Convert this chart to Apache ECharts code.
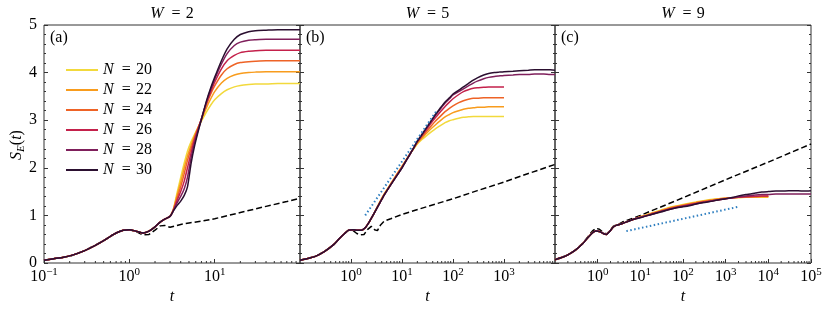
<!DOCTYPE html>
<html><head><meta charset="utf-8">
<script src="https://cdn.jsdelivr.net/npm/echarts@6/dist/echarts.min.js"></script>
<style>html,body{margin:0;padding:0;background:#fff}#c{width:830px;height:314px}</style>
</head><body><div id="c"></div>
<script>
// ---------- DATA ----------
const NS = ['20','22','24','26','28','30'];
const panelTitles = ['2','5','9'];
const panelTags = ['(a)','(b)','(c)'];
const xMax = [100, 10000, 100000];

// Panel (a), W = 2
const tA = [0.1,0.13,0.17,0.22,0.3,0.4,0.5,0.6,0.7,0.85,1.0,1.2,1.45,1.7,2.0,2.3,2.6,3.0,3.3,3.6,4.0,4.4,4.8,5.3,5.8,6.4,7,8,9,10,12,14,17,20,25,30,40,55,75,100];
const a20 = [0.06,0.09,0.12,0.17,0.26,0.37,0.47,0.56,0.63,0.69,0.70,0.67,0.63,0.67,0.76,0.86,0.92,0.98,1.15,1.45,1.8,2.1,2.35,2.55,2.7,2.85,2.98,3.17,3.32,3.43,3.56,3.64,3.7,3.73,3.75,3.76,3.76,3.77,3.77,3.77];
const a22 = [0.06,0.09,0.12,0.17,0.26,0.37,0.47,0.56,0.63,0.69,0.70,0.67,0.63,0.67,0.76,0.86,0.92,0.98,1.14,1.4,1.7,2.0,2.25,2.48,2.67,2.85,3.01,3.26,3.45,3.6,3.78,3.88,3.95,3.98,4.0,4.01,4.02,4.02,4.02,4.02];
const a24 = [0.06,0.09,0.12,0.17,0.26,0.37,0.47,0.56,0.63,0.69,0.70,0.67,0.63,0.67,0.76,0.86,0.92,0.98,1.13,1.35,1.6,1.88,2.15,2.41,2.63,2.84,3.02,3.32,3.55,3.72,3.95,4.08,4.17,4.21,4.23,4.24,4.25,4.25,4.25,4.25];
const a26 = [0.06,0.09,0.12,0.17,0.26,0.37,0.47,0.56,0.63,0.69,0.70,0.67,0.63,0.67,0.76,0.86,0.92,0.98,1.12,1.3,1.5,1.72,2.0,2.32,2.59,2.82,3.03,3.36,3.6,3.8,4.08,4.25,4.36,4.42,4.45,4.46,4.47,4.47,4.47,4.47];
const a28 = [0.06,0.09,0.12,0.17,0.26,0.37,0.47,0.56,0.63,0.69,0.70,0.67,0.63,0.67,0.76,0.86,0.92,0.98,1.11,1.25,1.4,1.56,1.8,2.22,2.52,2.79,3.03,3.38,3.65,3.86,4.18,4.4,4.57,4.64,4.68,4.69,4.7,4.7,4.7,4.7];
const a30 = [0.06,0.09,0.12,0.17,0.26,0.37,0.47,0.56,0.63,0.69,0.70,0.67,0.63,0.67,0.76,0.86,0.92,0.98,1.1,1.2,1.3,1.42,1.6,2.1,2.45,2.76,3.02,3.4,3.68,3.9,4.25,4.5,4.7,4.8,4.86,4.88,4.89,4.9,4.9,4.9];
const tDashA = [0.1,0.2,0.3,0.5,0.7,0.85,1.0,1.2,1.45,1.7,2.0,2.3,2.6,3.0,3.5,4,5,7,10,20,40,70,100];
const dashA  = [0.06,0.14,0.26,0.47,0.63,0.69,0.70,0.66,0.59,0.6,0.69,0.78,0.79,0.75,0.78,0.81,0.84,0.88,0.93,1.06,1.19,1.29,1.36];

// Panel (b), W = 5
const tB = [0.1,0.15,0.2,0.3,0.45,0.6,0.75,0.9,1.1,1.35,1.6,1.9,2.3,2.8,3.5,4.5,6,8,10,13,16,20,25,30,38,45,55,70,85,100,130,160,200,250,300,400,500,650,800,1000,1500,2000,3000,4000,6000,8000,10000];
const b20 = [0.06,0.1,0.14,0.24,0.38,0.52,0.62,0.69,0.70,0.69,0.69,0.74,0.87,1.03,1.24,1.45,1.66,1.87,2.03,2.22,2.36,2.5,2.6,2.67,2.76,2.82,2.88,2.95,2.99,3.01,3.04,3.06,3.07,3.08,3.08,3.08,3.08,3.08,3.08,3.08];
const b22 = [0.06,0.1,0.14,0.24,0.38,0.52,0.62,0.69,0.70,0.69,0.69,0.74,0.87,1.03,1.24,1.45,1.66,1.87,2.03,2.22,2.37,2.52,2.63,2.72,2.83,2.9,2.98,3.07,3.12,3.16,3.2,3.23,3.25,3.26,3.27,3.27,3.28,3.28,3.28,3.28];
const b24 = [0.06,0.1,0.14,0.24,0.38,0.52,0.62,0.69,0.70,0.69,0.69,0.74,0.87,1.03,1.23,1.44,1.65,1.86,2.02,2.22,2.37,2.53,2.66,2.76,2.89,2.98,3.07,3.18,3.25,3.3,3.37,3.41,3.44,3.46,3.46,3.47,3.47,3.47,3.47,3.47];
const b26 = [0.06,0.1,0.14,0.24,0.38,0.52,0.62,0.69,0.70,0.69,0.69,0.74,0.87,1.03,1.22,1.43,1.64,1.85,2.01,2.21,2.37,2.55,2.69,2.8,2.95,3.05,3.16,3.29,3.38,3.45,3.54,3.6,3.64,3.67,3.68,3.69,3.7,3.7,3.7,3.7];
const b28 = [0.06,0.1,0.14,0.24,0.38,0.52,0.62,0.69,0.70,0.69,0.69,0.74,0.87,1.03,1.22,1.43,1.64,1.84,2.0,2.21,2.37,2.56,2.71,2.83,2.99,3.1,3.22,3.36,3.45,3.53,3.6,3.66,3.72,3.78,3.82,3.87,3.9,3.92,3.93,3.94,3.95,3.96,3.96,3.97,3.97,3.96,3.96];
const b30 = [0.06,0.1,0.14,0.24,0.38,0.52,0.62,0.69,0.70,0.69,0.69,0.74,0.87,1.03,1.22,1.43,1.64,1.84,2.0,2.21,2.37,2.56,2.71,2.84,3.0,3.12,3.24,3.38,3.47,3.55,3.63,3.7,3.77,3.84,3.89,3.95,3.98,4.0,4.01,4.02,4.03,4.04,4.05,4.06,4.06,4.06,4.05];
const tDashB = [0.1,0.2,0.3,0.45,0.6,0.75,0.9,1.1,1.3,1.5,1.8,2.1,2.5,2.9,3.3,3.8,4.5,6,10,30,100,300,1000,3000,10000];
const dashB  = [0.06,0.14,0.24,0.38,0.52,0.62,0.69,0.68,0.62,0.59,0.6,0.7,0.77,0.7,0.68,0.8,0.88,0.93,1.02,1.18,1.35,1.52,1.7,1.88,2.07];
const tFitB = [1.9, 47];
const fitB  = [1.0, 3.19];

// Panel (c), W = 9
const tC = [0.1,0.15,0.2,0.3,0.45,0.6,0.75,0.9,1.1,1.35,1.6,1.9,2.3,2.7,3.2,3.8,5,7,10,15,20,30,50,70,100,150,200,300,500,700,1000,1500,2000,3000,5000,7000,10000,15000,20000,30000,50000,70000,100000];
const c20 = [0.07,0.12,0.17,0.27,0.41,0.54,0.63,0.67,0.66,0.62,0.6,0.66,0.75,0.79,0.81,0.83,0.87,0.92,0.97,1.02,1.06,1.11,1.17,1.2,1.23,1.26,1.28,1.31,1.34,1.35,1.36,1.37,1.37,1.38,1.38,1.38,1.38];
const c22 = [0.07,0.12,0.17,0.27,0.41,0.54,0.63,0.67,0.66,0.62,0.6,0.66,0.75,0.79,0.81,0.83,0.87,0.92,0.97,1.02,1.05,1.1,1.16,1.19,1.22,1.25,1.27,1.3,1.33,1.35,1.36,1.37,1.38,1.38,1.39,1.39,1.39];
const c24 = [0.07,0.12,0.17,0.27,0.41,0.54,0.63,0.67,0.66,0.62,0.6,0.66,0.75,0.79,0.81,0.83,0.87,0.92,0.96,1.01,1.05,1.09,1.15,1.18,1.21,1.24,1.26,1.29,1.32,1.34,1.36,1.37,1.38,1.39,1.39,1.4,1.4];
const c26 = [0.07,0.12,0.17,0.27,0.41,0.54,0.63,0.67,0.66,0.62,0.6,0.66,0.75,0.79,0.81,0.83,0.87,0.92,0.96,1.0,1.04,1.08,1.14,1.17,1.2,1.23,1.25,1.28,1.31,1.33,1.35,1.37,1.38,1.39,1.4,1.41,1.41];
const c28 = [0.07,0.12,0.17,0.27,0.41,0.54,0.63,0.67,0.66,0.62,0.6,0.66,0.75,0.79,0.81,0.83,0.87,0.92,0.96,1.0,1.03,1.08,1.13,1.16,1.19,1.22,1.24,1.27,1.31,1.33,1.35,1.37,1.39,1.41,1.43,1.44,1.44,1.45,1.45,1.45,1.45,1.45,1.45];
const c30 = [0.07,0.12,0.17,0.27,0.41,0.54,0.63,0.67,0.66,0.62,0.6,0.66,0.75,0.79,0.81,0.83,0.87,0.92,0.95,1.0,1.03,1.07,1.13,1.16,1.18,1.21,1.24,1.27,1.3,1.33,1.35,1.38,1.41,1.44,1.47,1.49,1.5,1.51,1.51,1.52,1.52,1.51,1.52];
const tDashC = [0.1,0.2,0.3,0.45,0.6,0.75,0.9,1.1,1.35,1.6,1.9,2.3,2.7,3.2,3.8,5,10,100,1000,10000,100000];
const dashC  = [0.07,0.17,0.27,0.42,0.56,0.67,0.73,0.71,0.64,0.61,0.67,0.77,0.8,0.82,0.86,0.9,1.0,1.37,1.75,2.12,2.5];
const tFitC = [4.7, 1950];
const fitC  = [0.67, 1.18];

// ---------- STYLE ----------
const FONT = '"Liberation Serif","DejaVu Serif",serif';
const FS = 16;
const COLORS = ['#f2d93c','#f89c1d','#ee6326','#c4214b','#7f1f5b','#2b0f30'];
const AX = '#333';
const EQ = '\u2002=\u2004';
const richBase = {
  n: {fontFamily: FONT, fontSize: FS, color: '#000'},
  i: {fontFamily: FONT, fontSize: FS, fontStyle: 'italic', color: '#000'},
  b: {fontFamily: FONT, fontSize: FS, color: '#000'},
  s: {fontFamily: FONT, fontSize: 11, color: '#000', padding: [0,0,8,0]},
  sub: {fontFamily: FONT, fontSize: 11, fontStyle: 'italic', color: '#000', padding: [8,0,0,0]}
};
const grids = [
  {left: 44, top: 25, width: 256, height: 238},
  {left: 300, top: 25, width: 255, height: 238},
  {left: 555, top: 25, width: 256, height: 238}
];

const pairs = (t, s) => s.map((v, i) => [t[i], v]);
const panelData = [
  {t: tA, s: [a20,a22,a24,a26,a28,a30], dt: tDashA, d: dashA, ft: null, f: null},
  {t: tB, s: [b20,b22,b24,b26,b28,b30], dt: tDashB, d: dashB, ft: tFitB, f: fitB},
  {t: tC, s: [c20,c22,c24,c26,c28,c30], dt: tDashC, d: dashC, ft: tFitC, f: fitC}
];

const xAxis = [], yAxis = [], series = [];
function expLabel(v) {
  const e = Math.round(Math.log10(v));
  return '{b|10}{s|' + (e < 0 ? '\u2212' + (-e) : e) + '}';
}
for (let g = 0; g < 3; g++) {
  xAxis.push({
    type: 'log', logBase: 10, gridIndex: g, min: 0.1, max: xMax[g], splitNumber: 10,
    axisLine: {show: false},
    axisTick: {show: true, inside: true, length: 4, lineStyle: {color: AX, width: 1}},
    axisLabel: {show: true, margin: 4, formatter: expLabel, rich: richBase,
      showMinLabel: g === 0, showMaxLabel: g === 2},
    splitLine: {show: false}
  });
  for (const pos of ['left', 'right']) {
    yAxis.push({
      type: 'value', gridIndex: g, min: 0, max: 5, interval: 1, position: pos,
      axisLine: {show: false},
      axisTick: {show: true, inside: true, length: 4, lineStyle: {color: AX, width: 1}},
      minorTick: {show: true, splitNumber: 5, length: 2, lineStyle: {color: AX, width: 1}},
      axisLabel: {show: g === 0 && pos === 'left', margin: 7, fontFamily: FONT, fontSize: FS, color: '#000'},
      splitLine: {show: false}
    });
  }
  const P = panelData[g];
  series.push({
    type: 'line', xAxisIndex: g, yAxisIndex: 2*g, data: pairs(P.dt, P.d), symbol: 'none',
    lineStyle: {color: '#000', width: 1.5, type: [6, 3]}, z: 2, silent: true
  });
  P.s.forEach((arr, k) => {
    series.push({
      type: 'line', name: NS[k], xAxisIndex: g, yAxisIndex: 2*g, data: pairs(P.t, arr),
      symbol: 'none', smooth: 0.2, color: COLORS[k],
      lineStyle: {color: COLORS[k], width: 1.5}, z: 3 + k, silent: true
    });
  });
  if (P.ft) {
    series.push({
      type: 'line', xAxisIndex: g, yAxisIndex: 2*g, data: pairs(P.ft, P.f), symbol: 'none',
      lineStyle: {color: '#2f7fc0', width: 2, type: [1.5, 2.5]}, z: 10, silent: true
    });
  }
  const minors = [];
  for (let e = -1; Math.pow(10, e) < xMax[g]; e++) {
    for (let m = 2; m <= 9; m++) {
      const v = m * Math.pow(10, e);
      if (v < xMax[g]) minors.push([v, 0]);
    }
  }
  series.push({
    type: 'custom', xAxisIndex: g, yAxisIndex: 2*g, data: minors, silent: true, z: 20,
    renderItem: (params, api) => {
      const p = api.coord([api.value(0), 0]);
      return {type: 'line', shape: {x1: p[0], y1: p[1], x2: p[0], y2: p[1] - 2},
        style: {stroke: AX, lineWidth: 1}};
    }
  });
}

const graphic = [];
const centers = [172, 427.5, 683];
for (let g = 0; g < 3; g++) {
  graphic.push({type: 'text', x: centers[g], y: 14, style: {
    text: '{i|W}{n|' + EQ + panelTitles[g] + '}', rich: richBase, align: 'center', verticalAlign: 'middle'}});
  graphic.push({type: 'text', x: centers[g], y: 297, style: {
    text: '{i|t}', rich: richBase, align: 'center', verticalAlign: 'middle'}});
  graphic.push({type: 'text', x: grids[g].left + 6, y: 38, style: {
    text: '{n|' + panelTags[g] + '}', rich: richBase, align: 'left', verticalAlign: 'middle'}});
}
graphic.push({type: 'text', x: 17, y: 145, rotation: Math.PI / 2, style: {
  text: '{i|S}{sub|E}{n|(}{i|t}{n|)}', rich: richBase, align: 'center', verticalAlign: 'middle'}});

const chart = echarts.init(document.getElementById('c'), null, {renderer: 'canvas'});
chart.setOption({
  animation: false,
  backgroundColor: '#fff',
  grid: grids.map(gr => Object.assign({show: true, borderColor: AX, borderWidth: 1, containLabel: false}, gr)),
  xAxis, yAxis, series, graphic,
  legend: {
    data: NS, orient: 'vertical', left: 60, top: 57, itemWidth: 32, itemHeight: 14, itemGap: 4,
    itemStyle: {opacity: 0},
    lineStyle: {width: 2},
    formatter: n => '{i|N}{n|' + EQ + n + '}',
    textStyle: {rich: richBase},
    selectedMode: false
  }
});
</script></body></html>
